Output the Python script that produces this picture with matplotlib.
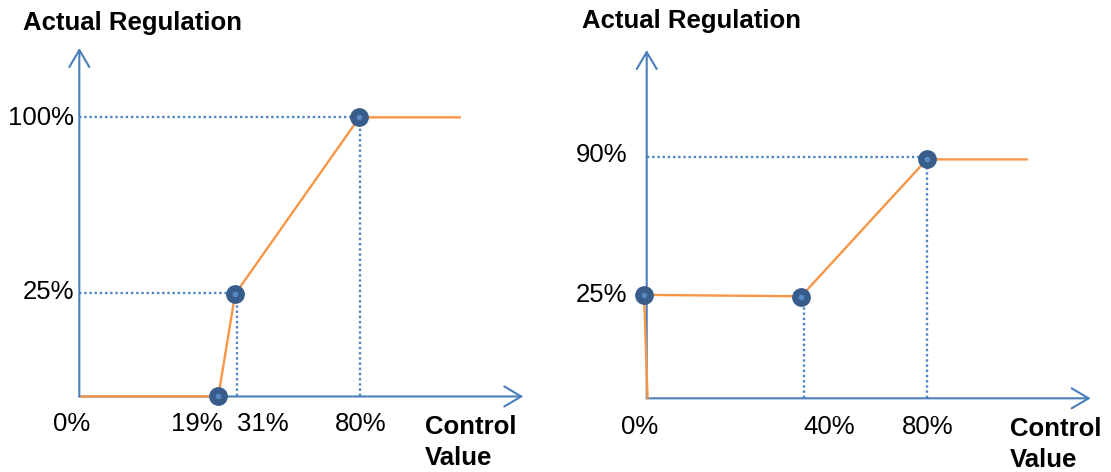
import matplotlib
matplotlib.use("Agg")
import matplotlib.pyplot as plt

plt.rcParams['font.family'] = ['Liberation Sans', 'DejaVu Sans']

# ---- Data (schematic diagram units: origin = 0, arrow tip = 100) ----
# Left panel
L_curve_x = [0.5, 31.3, 35.1, 63.1, 85.7]
L_curve_y = [0.0, 0.0, 29.4, 80.1, 80.1]
L_point_x = [31.3, 35.1, 63.1]
L_point_y = [0.0, 29.4, 80.1]
L_vguide_x = [35.5, 63.2]
L_vguide_top = [29.4, 80.1]
L_hguide_y = [29.6, 80.1]
L_hguide_end = [35.1, 63.1]
L_xtick_pos = [-1.7, 26.4, 41.3, 63.4]
L_xtick_lab = ["0%", "19%", "31%", "80%"]
L_ytick_pos = [80.0, 30.0]
L_ytick_lab = ["100%", "25%"]

# Right panel
R_curve_x = [0.2, -0.6, 34.8, 63.1, 85.6]
R_curve_y = [0.0, 29.7, 29.3, 68.6, 68.6]
R_point_x = [-0.6, 34.8, 63.1]
R_point_y = [29.7, 29.0, 68.6]
R_vguide_x = [35.5, 63.1]
R_vguide_top = [29.0, 68.6]
R_hguide_y = [69.2]
R_hguide_end = [63.1]
R_xtick_pos = [-1.7, 41.2, 63.2]
R_xtick_lab = ["0%", "40%", "80%"]
R_ytick_pos = [70.0, 29.7]
R_ytick_lab = ["90%", "25%"]

BLUE = '#4A7EBB'
GUIDE = '#4F84C4'
ORANGE = '#F79646'
MARK = '#385D8A'
MARK_C = '#5A8AC6'

fig = plt.figure(figsize=(11.11, 4.72), dpi=100)
axL = fig.add_axes([0.0714, 0.160, 0.3996, 0.7383])
axR = fig.add_axes([0.5821, 0.1561, 0.3996, 0.7379])


def draw(ax, cx, cy, px, py, vgx, vgt, hgy, hge, xtp, xtl, ytp, ytl,
         ylab_x, title_x, title_y, ctrl_x, xtick_y):
    ax.set_xlim(0, 100)
    ax.set_ylim(0, 100)
    ax.axis('off')
    # guides (dotted)
    for x, t in zip(vgx, vgt):
        ax.plot([x, x], [0, t], color=GUIDE, lw=1.7, ls=(0, (1, 1.2)),
                zorder=2, clip_on=False)
    for y, e in zip(hgy, hge):
        ax.plot([0, e], [y, y], color=GUIDE, lw=1.7, ls=(0, (1, 1.2)),
                zorder=2, clip_on=False)
    # axes arrows
    style = '->,head_length=0.61,head_width=0.36'
    ax.annotate('', xy=(100, 0), xytext=(0, 0), annotation_clip=False,
                arrowprops=dict(arrowstyle=style, color=BLUE, lw=1.5,
                                shrinkA=0, shrinkB=0, mutation_scale=20),
                zorder=3)
    ax.annotate('', xy=(0, 100), xytext=(0, 0), annotation_clip=False,
                arrowprops=dict(arrowstyle=style, color=BLUE, lw=1.5,
                                shrinkA=0, shrinkB=0, mutation_scale=20),
                zorder=3)
    # curve
    ax.plot(cx, cy, color=ORANGE, lw=1.7, zorder=4, clip_on=False,
            solid_joinstyle='round')
    # points
    ax.plot(px, py, 'o', ms=12.5, color=MARK, mec=MARK, zorder=5, clip_on=False)
    ax.plot(px, py, 'o', ms=3.0, color=MARK_C, mec=MARK_C, zorder=6, clip_on=False)
    # tick labels
    for x, s in zip(xtp, xtl):
        ax.text(x, xtick_y, s, ha='center', va='center', fontsize=18.5,
                clip_on=False)
    for y, s in zip(ytp, ytl):
        ax.text(ylab_x, y, s, ha='right', va='center', fontsize=18.5,
                clip_on=False)
    ax.text(title_x, title_y, "Actual Regulation", ha='left', va='center',
            fontsize=18.5, fontweight='bold', clip_on=False)
    ax.text(ctrl_x, -8.8, "Control", ha='left', va='center',
            fontsize=18.5, fontweight='bold', clip_on=False)
    ax.text(ctrl_x, -17.6, "Value", ha='left', va='center',
            fontsize=18.5, fontweight='bold', clip_on=False)


draw(axL, L_curve_x, L_curve_y, L_point_x, L_point_y, L_vguide_x, L_vguide_top,
     L_hguide_y, L_hguide_end, L_xtick_pos, L_xtick_lab, L_ytick_pos, L_ytick_lab,
     ylab_x=-1.2, title_x=-12.7, title_y=107.2, ctrl_x=77.9, xtick_y=-8.0)
draw(axR, R_curve_x, R_curve_y, R_point_x, R_point_y, R_vguide_x, R_vguide_top,
     R_hguide_y, R_hguide_end, R_xtick_pos, R_xtick_lab, R_ytick_pos, R_ytick_lab,
     ylab_x=-4.3, title_x=-14.6, title_y=108.3, ctrl_x=81.8, xtick_y=-8.2)

fig.savefig('out.png', dpi=100)
